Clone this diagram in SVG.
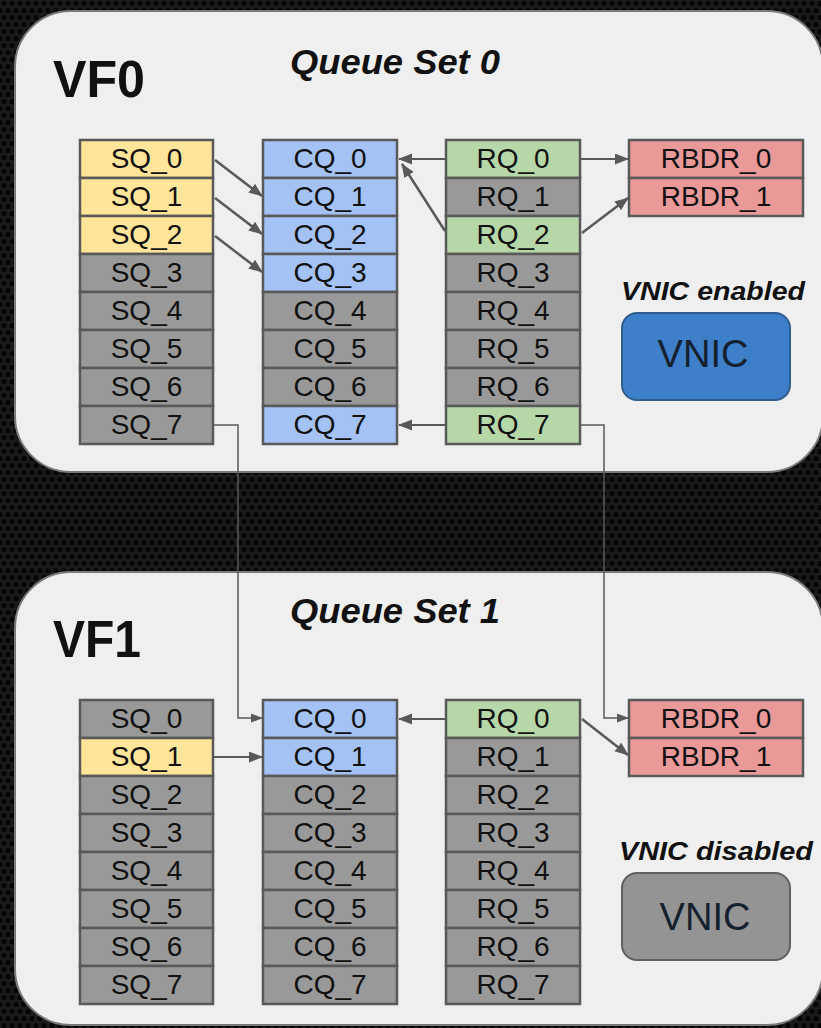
<svg xmlns="http://www.w3.org/2000/svg" width="821" height="1028" viewBox="0 0 821 1028">
  <defs>
    <pattern id="hex" width="8" height="14" patternUnits="userSpaceOnUse">
      <rect width="8" height="14" fill="#1b1b1b"/>
      <circle cx="4" cy="3.5" r="2.6" fill="#050505"/>
      <circle cx="0" cy="10.5" r="2.6" fill="#050505"/>
      <circle cx="8" cy="10.5" r="2.6" fill="#050505"/>
    </pattern>
    <marker id="arr" markerWidth="14" markerHeight="12" refX="13" refY="5.5" orient="auto" markerUnits="userSpaceOnUse">
      <path d="M0,0 L14,5.5 L0,11 z" fill="#595959"/>
    </marker>
    <marker id="arrs" markerWidth="12" markerHeight="10" refX="11" refY="4.5" orient="auto" markerUnits="userSpaceOnUse">
      <path d="M0,0 L12,4.5 L0,9 z" fill="#595959"/>
    </marker>
  </defs>
  <style>
    .panel { fill: #efefef; stroke: #7a7a7a; stroke-width: 2; }
    .cell { stroke: #595959; stroke-width: 2.5; }
    .y { fill: #ffe599; }
    .b { fill: #a4c2f4; }
    .g { fill: #b6d7a8; }
    .r { fill: #ea9999; }
    .k { fill: #999999; }
    .t { font-family: "Liberation Sans", Arial, sans-serif; font-size: 28px; fill: #111; text-anchor: middle; }
    .vf { font-family: "Liberation Sans", Arial, sans-serif; font-size: 52px; font-weight: bold; fill: #111; }
    .qs { font-family: "Liberation Sans", Arial, sans-serif; font-size: 35px; font-weight: bold; font-style: italic; fill: #111; }
    .st { font-family: "Liberation Sans", Arial, sans-serif; font-size: 25px; font-weight: bold; font-style: italic; fill: #111; }
    .vn { font-family: "Liberation Sans", Arial, sans-serif; font-size: 38px; fill: #15202e; text-anchor: middle; }
    .c { fill: none; stroke: #595959; stroke-width: 2.5; }
    .ch { fill: none; stroke: #595959; stroke-width: 2; }
    .cl { fill: none; stroke: #5a5a5a; stroke-width: 1.5; }
  </style>

  <rect x="0" y="0" width="821" height="1028" fill="url(#hex)"/>

  <g id="vf0">
    <rect class="panel" x="15" y="11" width="808" height="461" rx="56" ry="56"/>
    <text class="vf" x="53" y="97" textLength="92" lengthAdjust="spacingAndGlyphs">VF0</text>
    <text class="qs" x="290" y="74" textLength="210" lengthAdjust="spacingAndGlyphs">Queue Set 0</text>
    <text class="st" x="621" y="300" textLength="184" lengthAdjust="spacingAndGlyphs">VNIC enabled</text>
  </g>
  <g id="vf1">
    <rect class="panel" x="15" y="572" width="808" height="453" rx="56" ry="56"/>
    <text class="vf" x="53" y="657" textLength="88" lengthAdjust="spacingAndGlyphs">VF1</text>
    <text class="qs" x="290" y="623" textLength="210" lengthAdjust="spacingAndGlyphs">Queue Set 1</text>
    <text class="st" x="619" y="860" textLength="194" lengthAdjust="spacingAndGlyphs">VNIC disabled</text>
  </g>

  <!-- VF0 SQ column -->
  <g id="vf0-sq0"><rect class="cell y" x="80" y="140" width="133" height="38"/><text class="t" x="146.5" y="168">SQ_0</text></g>
  <g id="vf0-sq1"><rect class="cell y" x="80" y="178" width="133" height="38"/><text class="t" x="146.5" y="206">SQ_1</text></g>
  <g id="vf0-sq2"><rect class="cell y" x="80" y="216" width="133" height="38"/><text class="t" x="146.5" y="244">SQ_2</text></g>
  <g id="vf0-sq3"><rect class="cell k" x="80" y="254" width="133" height="38"/><text class="t" x="146.5" y="282">SQ_3</text></g>
  <g id="vf0-sq4"><rect class="cell k" x="80" y="292" width="133" height="38"/><text class="t" x="146.5" y="320">SQ_4</text></g>
  <g id="vf0-sq5"><rect class="cell k" x="80" y="330" width="133" height="38"/><text class="t" x="146.5" y="358">SQ_5</text></g>
  <g id="vf0-sq6"><rect class="cell k" x="80" y="368" width="133" height="38"/><text class="t" x="146.5" y="396">SQ_6</text></g>
  <g id="vf0-sq7"><rect class="cell k" x="80" y="406" width="133" height="38"/><text class="t" x="146.5" y="434">SQ_7</text></g>

  <!-- VF0 CQ column -->
  <g id="vf0-cq0"><rect class="cell b" x="263" y="140" width="134" height="38"/><text class="t" x="330" y="168">CQ_0</text></g>
  <g id="vf0-cq1"><rect class="cell b" x="263" y="178" width="134" height="38"/><text class="t" x="330" y="206">CQ_1</text></g>
  <g id="vf0-cq2"><rect class="cell b" x="263" y="216" width="134" height="38"/><text class="t" x="330" y="244">CQ_2</text></g>
  <g id="vf0-cq3"><rect class="cell b" x="263" y="254" width="134" height="38"/><text class="t" x="330" y="282">CQ_3</text></g>
  <g id="vf0-cq4"><rect class="cell k" x="263" y="292" width="134" height="38"/><text class="t" x="330" y="320">CQ_4</text></g>
  <g id="vf0-cq5"><rect class="cell k" x="263" y="330" width="134" height="38"/><text class="t" x="330" y="358">CQ_5</text></g>
  <g id="vf0-cq6"><rect class="cell k" x="263" y="368" width="134" height="38"/><text class="t" x="330" y="396">CQ_6</text></g>
  <g id="vf0-cq7"><rect class="cell b" x="263" y="406" width="134" height="38"/><text class="t" x="330" y="434">CQ_7</text></g>

  <!-- VF0 RQ column -->
  <g id="vf0-rq0"><rect class="cell g" x="446" y="140" width="134" height="38"/><text class="t" x="513" y="168">RQ_0</text></g>
  <g id="vf0-rq1"><rect class="cell k" x="446" y="178" width="134" height="38"/><text class="t" x="513" y="206">RQ_1</text></g>
  <g id="vf0-rq2"><rect class="cell g" x="446" y="216" width="134" height="38"/><text class="t" x="513" y="244">RQ_2</text></g>
  <g id="vf0-rq3"><rect class="cell k" x="446" y="254" width="134" height="38"/><text class="t" x="513" y="282">RQ_3</text></g>
  <g id="vf0-rq4"><rect class="cell k" x="446" y="292" width="134" height="38"/><text class="t" x="513" y="320">RQ_4</text></g>
  <g id="vf0-rq5"><rect class="cell k" x="446" y="330" width="134" height="38"/><text class="t" x="513" y="358">RQ_5</text></g>
  <g id="vf0-rq6"><rect class="cell k" x="446" y="368" width="134" height="38"/><text class="t" x="513" y="396">RQ_6</text></g>
  <g id="vf0-rq7"><rect class="cell g" x="446" y="406" width="134" height="38"/><text class="t" x="513" y="434">RQ_7</text></g>

  <!-- VF0 RBDR -->
  <g id="vf0-rbdr0"><rect class="cell r" x="629" y="140" width="174" height="38"/><text class="t" x="716" y="168">RBDR_0</text></g>
  <g id="vf0-rbdr1"><rect class="cell r" x="629" y="178" width="174" height="38"/><text class="t" x="716" y="206">RBDR_1</text></g>

  <g id="vf0-vnic"><rect x="622" y="313" width="168" height="87" rx="15" ry="15" fill="#3d7fc8" stroke="#2f5d8c" stroke-width="2"/><text class="vn" x="703" y="367">VNIC</text></g>

  <!-- VF1 SQ column -->
  <g id="vf1-sq0"><rect class="cell k" x="80" y="700" width="133" height="38"/><text class="t" x="146.5" y="728">SQ_0</text></g>
  <g id="vf1-sq1"><rect class="cell y" x="80" y="738" width="133" height="38"/><text class="t" x="146.5" y="766">SQ_1</text></g>
  <g id="vf1-sq2"><rect class="cell k" x="80" y="776" width="133" height="38"/><text class="t" x="146.5" y="804">SQ_2</text></g>
  <g id="vf1-sq3"><rect class="cell k" x="80" y="814" width="133" height="38"/><text class="t" x="146.5" y="842">SQ_3</text></g>
  <g id="vf1-sq4"><rect class="cell k" x="80" y="852" width="133" height="38"/><text class="t" x="146.5" y="880">SQ_4</text></g>
  <g id="vf1-sq5"><rect class="cell k" x="80" y="890" width="133" height="38"/><text class="t" x="146.5" y="918">SQ_5</text></g>
  <g id="vf1-sq6"><rect class="cell k" x="80" y="928" width="133" height="38"/><text class="t" x="146.5" y="956">SQ_6</text></g>
  <g id="vf1-sq7"><rect class="cell k" x="80" y="966" width="133" height="38"/><text class="t" x="146.5" y="994">SQ_7</text></g>

  <!-- VF1 CQ column -->
  <g id="vf1-cq0"><rect class="cell b" x="263" y="700" width="134" height="38"/><text class="t" x="330" y="728">CQ_0</text></g>
  <g id="vf1-cq1"><rect class="cell b" x="263" y="738" width="134" height="38"/><text class="t" x="330" y="766">CQ_1</text></g>
  <g id="vf1-cq2"><rect class="cell k" x="263" y="776" width="134" height="38"/><text class="t" x="330" y="804">CQ_2</text></g>
  <g id="vf1-cq3"><rect class="cell k" x="263" y="814" width="134" height="38"/><text class="t" x="330" y="842">CQ_3</text></g>
  <g id="vf1-cq4"><rect class="cell k" x="263" y="852" width="134" height="38"/><text class="t" x="330" y="880">CQ_4</text></g>
  <g id="vf1-cq5"><rect class="cell k" x="263" y="890" width="134" height="38"/><text class="t" x="330" y="918">CQ_5</text></g>
  <g id="vf1-cq6"><rect class="cell k" x="263" y="928" width="134" height="38"/><text class="t" x="330" y="956">CQ_6</text></g>
  <g id="vf1-cq7"><rect class="cell k" x="263" y="966" width="134" height="38"/><text class="t" x="330" y="994">CQ_7</text></g>

  <!-- VF1 RQ column -->
  <g id="vf1-rq0"><rect class="cell g" x="446" y="700" width="134" height="38"/><text class="t" x="513" y="728">RQ_0</text></g>
  <g id="vf1-rq1"><rect class="cell k" x="446" y="738" width="134" height="38"/><text class="t" x="513" y="766">RQ_1</text></g>
  <g id="vf1-rq2"><rect class="cell k" x="446" y="776" width="134" height="38"/><text class="t" x="513" y="804">RQ_2</text></g>
  <g id="vf1-rq3"><rect class="cell k" x="446" y="814" width="134" height="38"/><text class="t" x="513" y="842">RQ_3</text></g>
  <g id="vf1-rq4"><rect class="cell k" x="446" y="852" width="134" height="38"/><text class="t" x="513" y="880">RQ_4</text></g>
  <g id="vf1-rq5"><rect class="cell k" x="446" y="890" width="134" height="38"/><text class="t" x="513" y="918">RQ_5</text></g>
  <g id="vf1-rq6"><rect class="cell k" x="446" y="928" width="134" height="38"/><text class="t" x="513" y="956">RQ_6</text></g>
  <g id="vf1-rq7"><rect class="cell k" x="446" y="966" width="134" height="38"/><text class="t" x="513" y="994">RQ_7</text></g>

  <!-- VF1 RBDR -->
  <g id="vf1-rbdr0"><rect class="cell r" x="629" y="700" width="174" height="38"/><text class="t" x="716" y="728">RBDR_0</text></g>
  <g id="vf1-rbdr1"><rect class="cell r" x="629" y="738" width="174" height="38"/><text class="t" x="716" y="766">RBDR_1</text></g>

  <g id="vf1-vnic"><rect x="622" y="873" width="168" height="87" rx="15" ry="15" fill="#949494" stroke="#5f5f5f" stroke-width="2"/><text class="vn" x="705" y="930" fill="#111">VNIC</text></g>

  <g id="connectors">
    <line class="c" x1="215" y1="160" x2="262" y2="196" marker-end="url(#arr)"/>
    <line class="c" x1="215" y1="198" x2="262" y2="234" marker-end="url(#arr)"/>
    <line class="c" x1="215" y1="236" x2="262" y2="272" marker-end="url(#arr)"/>
    <line class="ch" x1="446" y1="159" x2="399" y2="159" marker-end="url(#arr)"/>
    <line class="c" x1="445" y1="231" x2="402" y2="164" marker-end="url(#arr)"/>
    <line class="ch" x1="580" y1="159" x2="628" y2="159" marker-end="url(#arr)"/>
    <line class="c" x1="582" y1="233" x2="628" y2="198" marker-end="url(#arr)"/>
    <line class="ch" x1="446" y1="425" x2="399" y2="425" marker-end="url(#arr)"/>
    <path class="cl" d="M213,425 H238 V718 H262" marker-end="url(#arrs)"/>
    <path class="cl" d="M580,425 H604 V718 H628" marker-end="url(#arrs)"/>
    <line class="ch" x1="446" y1="719" x2="399" y2="719" marker-end="url(#arr)"/>
    <line class="ch" x1="213" y1="757" x2="262" y2="757" marker-end="url(#arr)"/>
    <line class="c" x1="582" y1="719" x2="628" y2="755" marker-end="url(#arr)"/>
  </g>
</svg>
